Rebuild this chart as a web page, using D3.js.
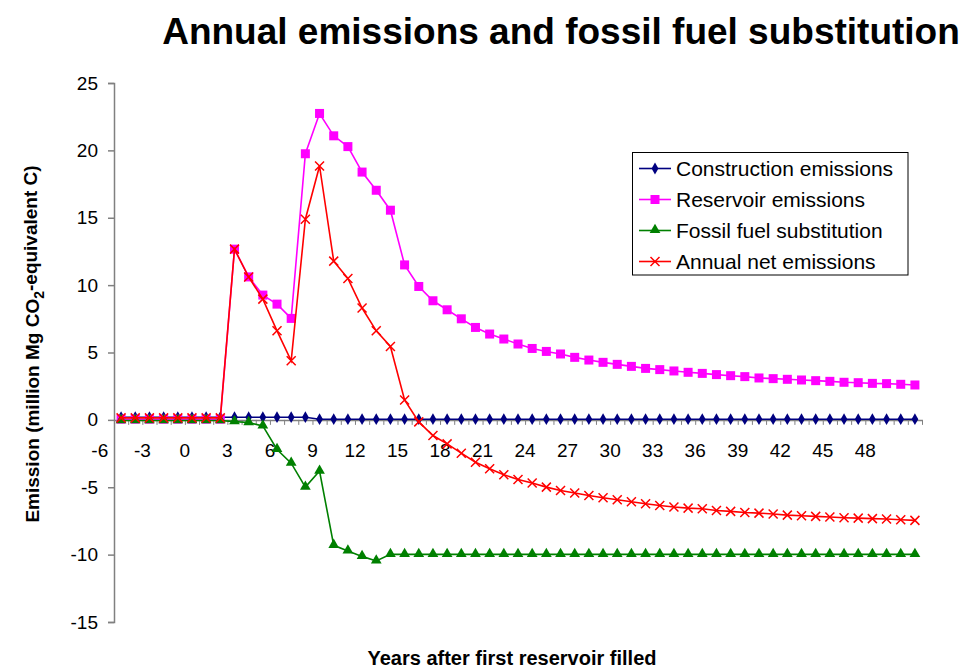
<!DOCTYPE html>
<html>
<head>
<meta charset="utf-8">
<script src="https://cdn.jsdelivr.net/npm/d3@7"></script>
<style>
  body { margin: 0; background: #fff; }
  svg { font-family: "Liberation Sans", Arial, sans-serif; }
</style>
</head>
<body>
<div id="chart"></div>
<script>
// years after first reservoir filled (category axis)
var years = [-6,-5,-4,-3,-2,-1,0,1,2,3,4,5,6,7,8,9,10,11,12,13,14,15,16,17,18,19,20,
  21,22,23,24,25,26,27,28,29,30,31,32,33,34,35,36,37,38,39,40,41,42,43,44,45,46,47,48,49,50];
var yearLabels = [-6,-3,0,3,6,9,12,15,18,21,24,27,30,33,36,39,42,45,48];
var yTicks = [-15,-10,-5,0,5,10,15,20,25];

var construction = [0.2,0.2,0.2,0.2,0.2,0.2,0.2,0.2,0.2,0.2,0.2,0.2,0.2,0.2,
  0.05,0.05,0.05,0.05,0.05,0.05,0.05,0.05,0.05,0.05,0.05,0.05,0.05,0.05,0.05,0.05,
  0.05,0.05,0.05,0.05,0.05,0.05,0.05,0.05,0.05,0.05,0.05,0.05,0.05,0.05,0.05,0.05,
  0.05,0.05,0.05,0.05,0.05,0.05,0.05,0.05,0.05,0.05,0.05];

var reservoir = [0.05,0.05,0.05,0.05,0.05,0.05,0.05,0.05,
  12.67,10.61,9.26,8.59,7.53,19.75,22.74,21.08,20.28,18.39,17.04,15.56,
  11.5,9.9,8.84,8.17,7.5,6.86,6.37,6.0,5.63,5.30,5.08,4.89,4.64,4.44,4.27,4.12,
  3.97,3.82,3.73,3.63,3.53,3.45,3.36,3.28,3.21,3.11,3.06,3.01,2.96,2.91,2.86,
  2.79,2.76,2.71,2.69,2.64,2.59];

var fossil = [-0.05,-0.05,-0.05,-0.05,-0.05,-0.05,-0.05,-0.05,
  -0.13,-0.2,-0.45,-2.2,-3.21,-4.99,-3.8,-9.31,-9.73,-10.13,-10.47,
  -9.98,-9.98,-9.98,-9.98,-9.98,-9.98,-9.98,-9.98,-9.98,-9.98,-9.98,-9.98,-9.98,
  -9.98,-9.98,-9.98,-9.98,-9.98,-9.98,-9.98,-9.98,-9.98,-9.98,-9.98,-9.98,-9.98,
  -9.98,-9.98,-9.98,-9.98,-9.98,-9.98,-9.98,-9.98,-9.98,-9.98,-9.98,-9.98];

var netEmissions = [0.15,0.15,0.15,0.15,0.15,0.15,0.15,0.15,
  12.67,10.6,8.96,6.61,4.39,14.89,18.84,11.78,10.49,8.3,6.61,5.45,
  1.48,-0.15,-1.16,-1.78,-2.47,-3.14,-3.63,-4.07,-4.42,-4.69,-4.99,-5.24,-5.43,
  -5.61,-5.78,-5.93,-6.07,-6.22,-6.35,-6.47,-6.55,-6.6,-6.72,-6.79,-6.87,-6.92,
  -6.99,-7.07,-7.11,-7.16,-7.21,-7.26,-7.29,-7.33,-7.36,-7.41,-7.46];

var seriesNames = ["Construction emissions","Reservoir emissions","Fossil fuel substitution","Annual net emissions"];
var seriesColors = ["#000080","#ff00ff","#008000","#ff0000"];
var seriesMarkers = ["diamond","square","triangle","cross"];
var seriesValues = [construction, reservoir, fossil, netEmissions];

var width = 969, height = 672;
var plot = {left: 114, right: 922, top: 83, bottom: 622};

var svg = d3.select("#chart").append("svg")
  .attr("width", width)
  .attr("height", height);

var x = d3.scalePoint()
  .domain(years)
  .range([plot.left, plot.right])
  .padding(0.5);
var step = x.step();

var y = d3.scaleLinear()
  .domain([-15, 25])
  .range([plot.bottom, plot.top]);

// title
svg.append("text")
  .attr("x", 561).attr("y", 44)
  .attr("text-anchor", "middle")
  .style("font-size", "37px").style("font-weight", "bold")
  .text("Annual emissions and fossil fuel substitution");

// y axis
var yAxis = svg.append("g")
  .attr("transform", "translate(" + plot.left + ",0)")
  .call(d3.axisLeft(y).tickValues(yTicks).tickSize(6).tickPadding(10)
    .tickFormat(function(d){ return String(d); }));
yAxis.select(".domain").attr("stroke", "#808080").attr("stroke-width", 1.5);
yAxis.selectAll(".tick line").attr("stroke", "#808080").attr("stroke-width", 1.5);
yAxis.selectAll(".tick text")
  .attr("fill", "#000")
  .style("font-size", "19px")
  .style("font-family", '"Liberation Sans", Arial, sans-serif');

// x axis at zero, ticks between categories
var xb = d3.scaleLinear()
  .domain([0, years.length])
  .range([plot.left, plot.right]);
var xAxis = svg.append("g")
  .attr("transform", "translate(0," + y(0) + ")")
  .call(d3.axisBottom(xb).tickValues(d3.range(0, years.length + 1)).tickSize(5).tickSizeOuter(0).tickFormat(""));
xAxis.select(".domain").attr("stroke", "#808080").attr("stroke-width", 1.5);
xAxis.selectAll(".tick line").attr("stroke", "#808080").attr("stroke-width", 1);

svg.append("g").selectAll("text")
  .data(yearLabels)
  .enter().append("text")
  .attr("x", function(d){ return x(d) - 1.5 * step; })
  .attr("y", 457)
  .attr("text-anchor", "middle")
  .style("font-size", "19px")
  .text(function(d){ return String(d); });

// axis titles
svg.append("text")
  .attr("x", 512).attr("y", 665)
  .attr("text-anchor", "middle")
  .style("font-size", "20px").style("font-weight", "bold")
  .text("Years after first reservoir filled");

var yTitle = svg.append("text")
  .attr("transform", "translate(39,344) rotate(-90)")
  .attr("text-anchor", "middle")
  .style("font-size", "19px").style("font-weight", "bold");
yTitle.append("tspan").text("Emission (million Mg CO");
yTitle.append("tspan").attr("dy", "0.35em").style("font-size", "14px").text("2");
yTitle.append("tspan").attr("dy", "-0.35em").text("-equivalent C)");

// markers
function drawMarker(g, type, color, cx, cy) {
  if (type === "diamond") {
    g.append("path").attr("d", d3.symbol().type(d3.symbolDiamond).size(40)())
      .attr("transform", "translate(" + cx + "," + cy + ")").attr("fill", color);
  } else if (type === "square") {
    g.append("rect").attr("x", cx - 4.5).attr("y", cy - 4.5)
      .attr("width", 9).attr("height", 9).attr("fill", color);
  } else if (type === "triangle") {
    g.append("path").attr("d", d3.symbol().type(d3.symbolTriangle).size(50)())
      .attr("transform", "translate(" + cx + "," + (cy - 0.5) + ")").attr("fill", color);
  } else {
    g.append("path")
      .attr("d", "M" + (cx - 4.5) + "," + (cy - 4.5) + "L" + (cx + 4.5) + "," + (cy + 4.5) +
                 "M" + (cx - 4.5) + "," + (cy + 4.5) + "L" + (cx + 4.5) + "," + (cy - 4.5))
      .attr("stroke", color).attr("stroke-width", 1.5).attr("fill", "none");
  }
}

var line = d3.line()
  .x(function(d, i){ return x(years[i]); })
  .y(function(d){ return y(d); });

seriesValues.forEach(function(vals, s) {
  var g = svg.append("g").attr("class", "series");
  g.append("path")
    .datum(vals)
    .attr("d", line)
    .attr("fill", "none")
    .attr("stroke", seriesColors[s])
    .attr("stroke-width", 1.6);
  vals.forEach(function(v, i) {
    drawMarker(g, seriesMarkers[s], seriesColors[s], x(years[i]), y(v));
  });
});

// legend
var legend = svg.append("g");
legend.append("rect")
  .attr("x", 632.5).attr("y", 152.5)
  .attr("width", 275.5).attr("height", 122.5)
  .attr("fill", "#fff").attr("stroke", "#000").attr("stroke-width", 1);

seriesNames.forEach(function(name, s) {
  var ly = 168.5 + s * 31;
  legend.append("line")
    .attr("x1", 639).attr("x2", 671)
    .attr("y1", ly).attr("y2", ly)
    .attr("stroke", seriesColors[s]).attr("stroke-width", 1.6);
  drawMarker(legend, seriesMarkers[s], seriesColors[s], 655, ly);
  legend.append("text")
    .attr("x", 676).attr("y", ly + 7.5)
    .style("font-size", "21px")
    .text(name);
});
</script>
</body>
</html>
